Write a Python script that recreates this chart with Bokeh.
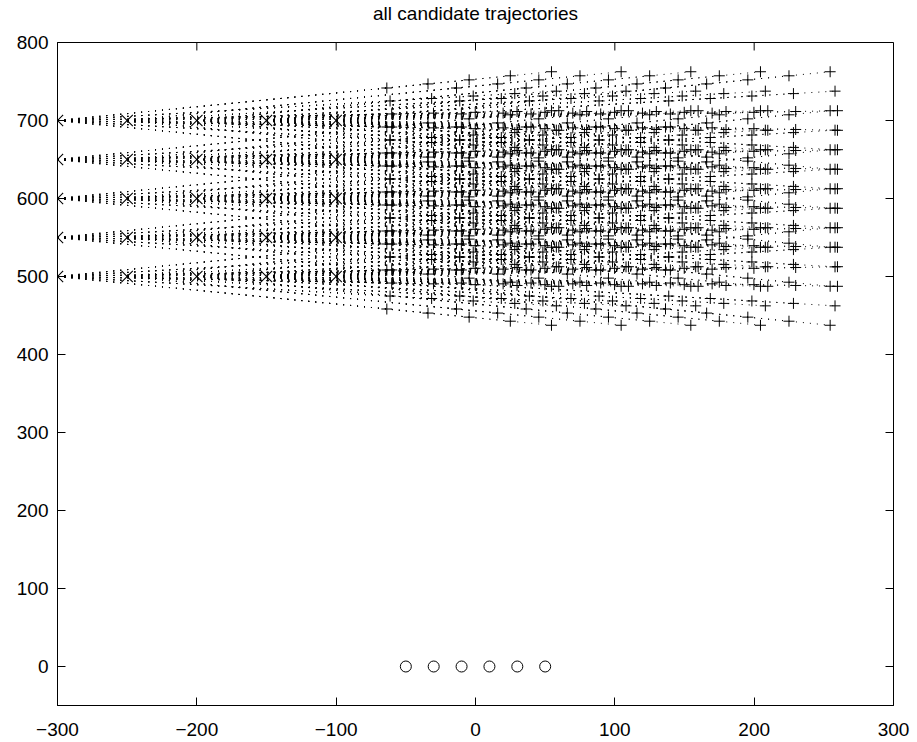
import numpy as np
from bokeh.plotting import figure
from bokeh.layouts import column
from bokeh.models import FixedTicker, Range1d
from bokeh.core.properties import value
from bokeh.embed import file_html
from bokeh.resources import INLINE

# start states of the candidate set (grid of launch positions)
start_x = [-300, -250, -200, -150, -100]
start_y = [500, 550, 600, 650, 700]
# path lengths and headings (degrees) of the candidate manoeuvres
path_length = [240, 270, 300, 330, 360]
heading_deg = [-10, -6, -2, 2, 6, 10]
# fixed reference points along y = 0
ref_x = [-50, -30, -10, 10, 30, 50]
ref_y = [0, 0, 0, 0, 0, 0]

x_ticks = [-300, -200, -100, 0, 100, 200, 300]
y_ticks = [0, 100, 200, 300, 400, 500, 600, 700, 800]
x_lim = (-300, 300)
y_lim = (-50, 800)
title_text = "all candidate trajectories"

# build every trajectory as a straight segment from its start to its end
xs, ys, ex, ey, sx, sy = [], [], [], [], [], []
for x0 in start_x:
    for y0 in start_y:
        sx.append(x0)
        sy.append(y0)
        for L in path_length:
            for h in heading_deg:
                t = np.deg2rad(h)
                x1 = x0 + L * np.cos(t)
                y1 = y0 + L * np.sin(t)
                xs.append([x0, x1])
                ys.append([y0, y1])
                ex.append(x1)
                ey.append(y1)

FONT = "Liberation Sans"
W, H = 917, 742
HEAD = 30          # height of the heading strip
LEFT, RIGHT = 57, 24

# heading strip, sharing the horizontal extent of the axes box
head = figure(
    width=W, height=HEAD, x_range=Range1d(*x_lim), y_range=Range1d(0, HEAD),
    output_backend="svg", toolbar_location=None,
    x_axis_type=None, y_axis_type=None,
    min_border_left=LEFT, min_border_right=RIGHT, min_border_top=0, min_border_bottom=0,
)
head.outline_line_color = None
head.grid.visible = False
head.background_fill_color = "white"
head.border_fill_color = "white"
head.text(x=[sum(x_lim) / 2], y=[HEAD - 13], text=[title_text],
          text_align="center", text_baseline="middle",
          text_font=value(FONT), text_font_size=value("19px"), text_color="black")

p = figure(
    width=W, height=H - HEAD,
    x_range=Range1d(*x_lim), y_range=Range1d(*y_lim),
    output_backend="svg", toolbar_location=None,
    min_border_left=LEFT, min_border_right=RIGHT,
    min_border_top=42 - HEAD, min_border_bottom=37,
)
p.background_fill_color = "white"
p.border_fill_color = "white"
p.grid.visible = False
p.outline_line_color = "black"
p.outline_line_width = 1

for ax, ticks in ((p.xaxis[0], x_ticks), (p.yaxis[0], y_ticks)):
    ax.ticker = FixedTicker(ticks=ticks)
    ax.major_tick_in = 8
    ax.major_tick_out = 0
    ax.minor_tick_line_color = None
    ax.axis_line_color = "black"
    ax.major_tick_line_color = "black"
    ax.major_label_text_font = FONT
    ax.major_label_text_font_size = "19px"
    ax.major_label_text_color = "black"
p.xaxis[0].major_label_standoff = 17
p.yaxis[0].major_label_standoff = 9

# mirrored inward tick marks along the top and right edges of the box
p.ray(x=x_ticks, y=[y_lim[1]] * len(x_ticks), length=8, length_units="screen",
      angle=-np.pi / 2, line_color="black", line_width=1)
p.ray(x=[x_lim[1]] * len(y_ticks), y=y_ticks, length=8, length_units="screen",
      angle=np.pi, line_color="black", line_width=1)

p.multi_line(xs, ys, line_color="black", line_width=1, line_dash="1 6")
p.scatter(ex, ey, marker="cross", size=11, line_color="black", line_width=1)
p.scatter(sx, sy, marker="x", size=16, line_color="black", line_width=1.1)
p.scatter(ref_x, ref_y, marker="circle", size=11, line_color="black",
          fill_color=None, line_width=1)

page = column(head, p, spacing=0)
open("out.html", "w").write(file_html(page, INLINE))
